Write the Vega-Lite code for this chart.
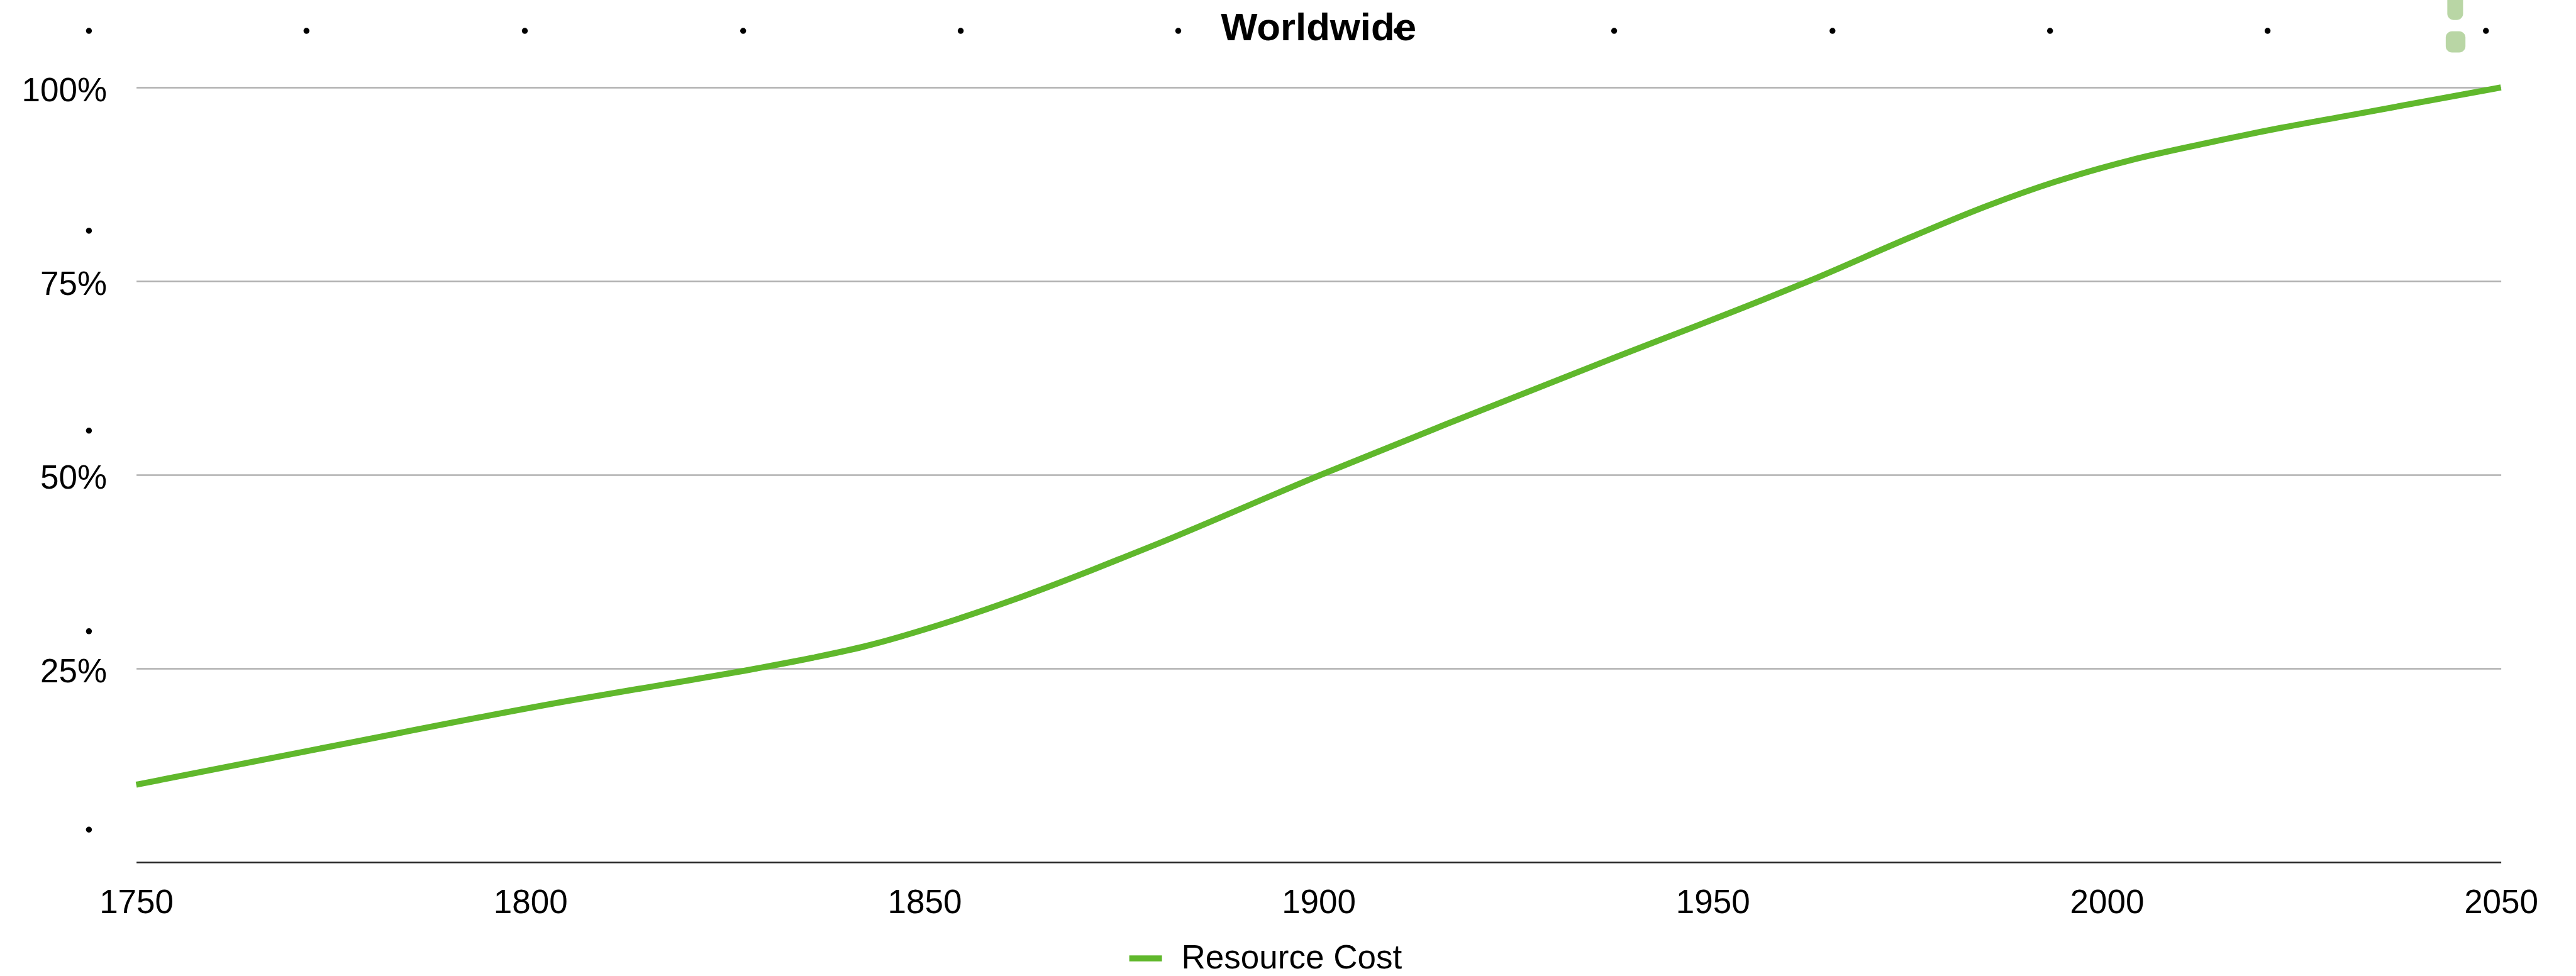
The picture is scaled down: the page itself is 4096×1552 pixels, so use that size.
{
  "$schema": "https://vega.github.io/schema/vega-lite/v6.json",
  "autosize": "none",
  "padding": {"left": 216.6, "top": 139, "right": 119.4, "bottom": 181},
  "width": 3760,
  "height": 1232,
  "background": "white",
  "config": {"view": {"stroke": null}, "font": "Liberation Sans"},
  "datasets": {
    "cost": [
      {"year": 1750, "share": 10, "series": "Resource Cost"},
      {"year": 1775, "share": 15, "series": "Resource Cost"},
      {"year": 1804.7, "share": 20.8, "series": "Resource Cost"},
      {"year": 1816.8, "share": 22.9, "series": "Resource Cost"},
      {"year": 1828.7, "share": 25, "series": "Resource Cost"},
      {"year": 1835.9, "share": 26.4, "series": "Resource Cost"},
      {"year": 1842.2, "share": 27.8, "series": "Resource Cost"},
      {"year": 1851.8, "share": 30.6, "series": "Resource Cost"},
      {"year": 1861.4, "share": 33.9, "series": "Resource Cost"},
      {"year": 1871, "share": 37.6, "series": "Resource Cost"},
      {"year": 1879.6, "share": 41.1, "series": "Resource Cost"},
      {"year": 1900.3, "share": 50, "series": "Resource Cost"},
      {"year": 1917.1, "share": 56.9, "series": "Resource Cost"},
      {"year": 1936.5, "share": 64.7, "series": "Resource Cost"},
      {"year": 1955.9, "share": 72.4, "series": "Resource Cost"},
      {"year": 1962.2, "share": 75, "series": "Resource Cost"},
      {"year": 1975.2, "share": 80.7, "series": "Resource Cost"},
      {"year": 1984.8, "share": 84.7, "series": "Resource Cost"},
      {"year": 1993.4, "share": 87.8, "series": "Resource Cost"},
      {"year": 2003, "share": 90.6, "series": "Resource Cost"},
      {"year": 2012.6, "share": 92.8, "series": "Resource Cost"},
      {"year": 2022.2, "share": 94.8, "series": "Resource Cost"},
      {"year": 2030.8, "share": 96.4, "series": "Resource Cost"},
      {"year": 2050, "share": 100, "series": "Resource Cost"}
    ],
    "dots": [
      {"year": 1744.0, "share": 107.3}, {"year": 1771.6, "share": 107.3},
      {"year": 1799.3, "share": 107.3}, {"year": 1827.0, "share": 107.3},
      {"year": 1854.6, "share": 107.3}, {"year": 1882.2, "share": 107.3},
      {"year": 1909.9, "share": 107.3}, {"year": 1937.5, "share": 107.3},
      {"year": 1965.2, "share": 107.3}, {"year": 1992.8, "share": 107.3},
      {"year": 2020.4, "share": 107.3}, {"year": 2048.1, "share": 107.3},
      {"year": 1744.0, "share": 81.5}, {"year": 1744.0, "share": 55.7},
      {"year": 1744.0, "share": 29.8}, {"year": 1744.0, "share": 4.2}
    ],
    "bang": [
      {"x0": 2043.2, "x1": 2045.2, "low": 108.7, "high": 112.5},
      {"x0": 2043.0, "x1": 2045.5, "low": 104.5, "high": 107.25}
    ],
    "heading": [{"year": 1900, "share": 106.1, "label": "Worldwide"}]
  },
  "data": {"name": "cost"},
  "layer": [
    {
      "data": {"name": "bang"},
      "mark": {"type": "rect", "color": "#b9d6a5", "cornerRadius": 10, "clip": false},
      "encoding": {
        "x": {"field": "x0", "type": "quantitative"},
        "x2": {"field": "x1"},
        "y": {"field": "low", "type": "quantitative"},
        "y2": {"field": "high"}
      }
    },
    {
      "data": {"name": "dots"},
      "mark": {"type": "point", "filled": true, "color": "black", "size": 90, "shape": "circle", "opacity": 1},
      "encoding": {
        "x": {"field": "year", "type": "quantitative"},
        "y": {"field": "share", "type": "quantitative"}
      }
    },
    {
      "data": {"name": "heading"},
      "mark": {"type": "text", "font": "Liberation Sans", "fontWeight": "bold", "fontSize": 61.7, "color": "black", "align": "center", "baseline": "alphabetic"},
      "encoding": {
        "x": {"field": "year", "type": "quantitative"},
        "y": {"field": "share", "type": "quantitative"},
        "text": {"field": "label"}
      }
    },
    {
      "mark": {"type": "line", "strokeWidth": 9.6, "strokeCap": "butt", "interpolate": "monotone"},
      "encoding": {
        "x": {
          "field": "year", "type": "quantitative",
          "scale": {"domain": [1750, 2050], "nice": false, "zero": false},
          "axis": {
            "title": null, "values": [1750, 1800, 1850, 1900, 1950, 2000, 2050], "format": "d",
            "grid": false, "ticks": false, "domainColor": "#222222", "domainWidth": 2.5,
            "labelFont": "Liberation Sans", "labelFontSize": 53, "labelColor": "black",
            "labelPadding": 38, "labelFlush": false, "labelOverlap": false
          }
        },
        "y": {
          "field": "share", "type": "quantitative",
          "scale": {"domain": [0, 100], "nice": false},
          "axis": {
            "title": null, "values": [25, 50, 75, 100], "labelExpr": "datum.value + '%'",
            "domain": false, "ticks": false, "grid": true, "gridColor": "#b0b0b0", "gridWidth": 2.5,
            "labelFont": "Liberation Sans", "labelFontSize": 53, "labelColor": "black",
            "labelPadding": 47, "labelBaseline": "middle", "labelOffset": 5, "labelOverlap": false
          }
        },
        "color": {
          "field": "series", "type": "nominal",
          "scale": {"range": ["#60b82c"]},
          "legend": {
            "title": null, "orient": "none", "legendX": 1574, "legendY": 1354, "direction": "horizontal",
            "symbolType": "stroke", "symbolSize": 2704, "symbolStrokeWidth": 9.6,
            "labelFont": "Liberation Sans", "labelFontSize": 53, "labelColor": "black", "labelOffset": 26, "labelLimit": 1000
          }
        }
      }
    }
  ]
}
